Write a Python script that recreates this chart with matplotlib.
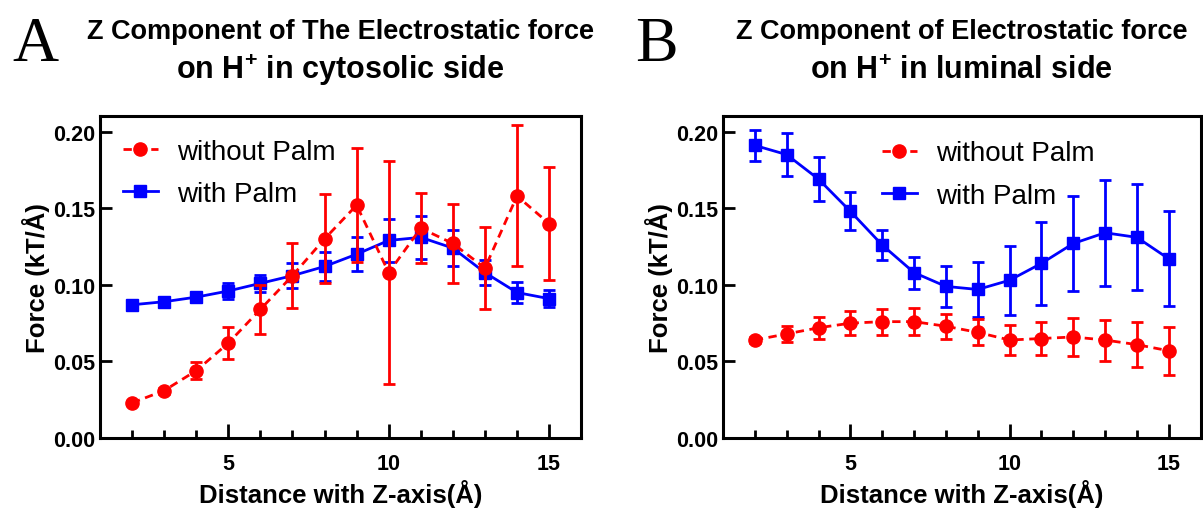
import matplotlib
matplotlib.use('Agg')
import matplotlib.pyplot as plt
from matplotlib.lines import Line2D
from matplotlib.ticker import MultipleLocator, FormatStrFormatter

plt.rcParams['font.family'] = ['Liberation Sans', 'DejaVu Sans']
plt.rcParams['mathtext.fontset'] = 'custom'
plt.rcParams['mathtext.rm'] = 'Liberation Sans'
plt.rcParams['mathtext.bf'] = 'Liberation Sans:bold'

# distance along the Z axis (Å)
dist = [2, 3, 4, 5, 6, 7, 8, 9, 10, 11, 12, 13, 14, 15]

# panel A - cytosolic side
cyto_without = [0.023, 0.031, 0.044, 0.062, 0.084, 0.106, 0.130, 0.152,
                0.108, 0.137, 0.127, 0.111, 0.158, 0.140]
cyto_without_err = [0.001, 0.002, 0.0055, 0.0105, 0.016, 0.021, 0.029, 0.037,
                    0.073, 0.023, 0.026, 0.027, 0.046, 0.037]
cyto_with = [0.087, 0.089, 0.092, 0.096, 0.101, 0.106, 0.112, 0.120,
             0.129, 0.131, 0.124, 0.108, 0.095, 0.091]
cyto_with_err = [0.002, 0.002, 0.003, 0.005, 0.0055, 0.008, 0.0095, 0.011,
                 0.014, 0.014, 0.012, 0.008, 0.0068, 0.0055]

# panel B - luminal side
lum_without = [0.064, 0.068, 0.072, 0.075, 0.076, 0.076, 0.073, 0.069,
               0.064, 0.065, 0.066, 0.064, 0.061, 0.057]
lum_without_err = [0.002, 0.005, 0.007, 0.008, 0.0085, 0.0087, 0.0083, 0.0085,
                   0.0095, 0.0108, 0.0122, 0.0134, 0.0147, 0.0157]
lum_with = [0.191, 0.185, 0.169, 0.148, 0.126, 0.108, 0.099, 0.097,
            0.103, 0.114, 0.127, 0.134, 0.131, 0.117]
lum_with_err = [0.0102, 0.014, 0.0143, 0.0125, 0.010, 0.0105, 0.0133, 0.0177,
                0.0225, 0.0273, 0.031, 0.0346, 0.0345, 0.031]

titles = [('Z Component of The Electrostatic force', 'on H$^{\\mathbf{+}}$ in cytosolic side'),
          ('Z Component of Electrostatic force', 'on H$^{\\mathbf{+}}$ in luminal side')]
letters = ['A', 'B']
legend_anchor = [(0.048, 0.93), (0.333, 0.925)]

RED = '#ff0000'
BLUE = '#0000ff'
DASH = (0, (3, 2))

fig = plt.figure(figsize=(12.03, 5.10), dpi=100)
ax1 = fig.add_axes([0.0831, 0.139, 0.400, 0.631])
ax2 = fig.add_axes([0.601, 0.139, 0.397, 0.631])

panels = [(ax1, cyto_without, cyto_without_err, cyto_with, cyto_with_err),
          (ax2, lum_without, lum_without_err, lum_with, lum_with_err)]

for i, (ax, wo, wo_err, w, w_err) in enumerate(panels):
    ax.errorbar(dist, wo, yerr=wo_err, color=RED, marker='o', markersize=9.5,
                linewidth=2.0, linestyle=DASH, capsize=4.3, capthick=2.0,
                elinewidth=2.0, zorder=3)
    ax.errorbar(dist, w, yerr=w_err, color=BLUE, marker='s', markersize=9,
                linewidth=2.0, capsize=4.3, capthick=2.0, elinewidth=2.0,
                zorder=2)

    ax.set_xlim(1, 16)
    ax.set_ylim(0, 0.21)
    ax.xaxis.set_major_locator(MultipleLocator(5))
    ax.xaxis.set_minor_locator(MultipleLocator(1))
    ax.yaxis.set_major_locator(MultipleLocator(0.05))
    ax.yaxis.set_major_formatter(FormatStrFormatter('%.2f'))
    ax.tick_params(axis='x', which='major', direction='in', length=10, width=2,
                   labelsize=15.5, pad=11)
    ax.tick_params(axis='x', which='minor', direction='in', length=5.5, width=2)
    ax.tick_params(axis='y', which='major', direction='in', length=8.5, width=2,
                   labelsize=15.5, pad=3.5)
    for lbl in ax.get_xticklabels() + ax.get_yticklabels():
        lbl.set_fontweight('bold')
    for sp in ax.spines.values():
        sp.set_linewidth(2.2)

    ax.set_xlabel('Distance with Z-axis(Å)', fontsize=18.5, fontweight='bold',
                  labelpad=3)
    ax.set_ylabel('Force (kT/Å)', fontsize=18.5, fontweight='bold', labelpad=2)

    handles = [Line2D([], [], color=RED, marker='o', markersize=9.5,
                      linewidth=2.0, linestyle=DASH),
               Line2D([], [], color=BLUE, marker='s', markersize=9,
                      linewidth=2.0)]
    ax.legend(handles, ['without Palm', 'with Palm'], loc='upper left',
              frameon=False, fontsize=20, handlelength=1.25, handletextpad=0.7,
              labelspacing=0.58, borderpad=0, borderaxespad=0,
              bbox_to_anchor=legend_anchor[i])

    pos = ax.get_position()
    cx = (pos.x0 + pos.x1) / 2
    fig.text(cx, 0.924, titles[i][0], ha='center', va='baseline',
             fontsize=19.5, fontweight='bold')
    fig.text(cx, 0.846, titles[i][1], ha='center', va='baseline',
             fontsize=22, fontweight='bold')

fig.text(0.010, 0.88, letters[0], family='Liberation Serif', fontsize=46, va='baseline')
fig.text(0.528, 0.88, letters[1], family='Liberation Serif', fontsize=46, va='baseline')

fig.savefig('out.png', dpi=100)
